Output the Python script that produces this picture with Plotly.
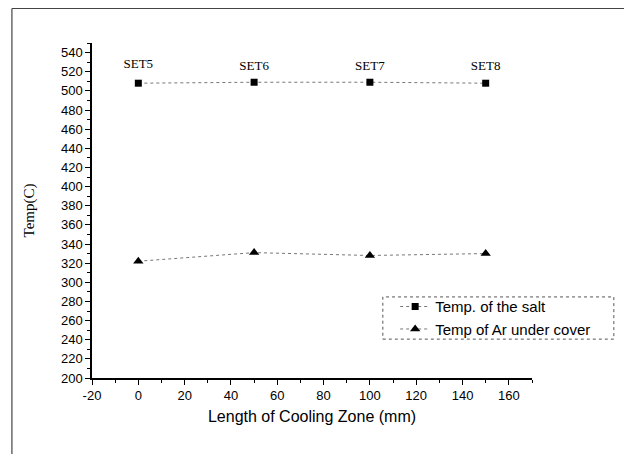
import plotly.graph_objects as go

x_mm = [0, 50, 100, 150]
salt_temp = [508, 509, 509, 508]
ar_temp = [322, 331, 328, 330]
set_labels = ["SET5", "SET6", "SET7", "SET8"]
set_label_y = [527, 525, 525, 525]
x_tick_vals = [-20, 0, 20, 40, 60, 80, 100, 120, 140, 160]
x_tick_text = ["-20", "0", "20", "40", "60", "80", "100", "120", "140", "160"]

fig = go.Figure()
fig.add_trace(go.Scatter(
    x=x_mm, y=salt_temp, mode="lines+markers", name="Temp. of the salt",
    line=dict(color="#777777", width=1, dash="dot"),
    marker=dict(symbol="square", size=7, color="black"),
))
fig.add_trace(go.Scatter(
    x=x_mm, y=ar_temp, mode="lines+markers", name="Temp of Ar under cover",
    line=dict(color="#777777", width=1, dash="dot"),
    marker=dict(symbol="triangle-up", size=9, color="black"),
))
fig.add_trace(go.Scatter(
    x=x_mm, y=set_label_y, mode="text", text=set_labels, showlegend=False,
    textfont=dict(family="Liberation Serif", size=13, color="black"),
    hoverinfo="skip",
))

axis_common = dict(
    showline=True, linecolor="black", linewidth=1.5, mirror=False,
    ticks="outside", ticklen=5, tickwidth=1.2, tickcolor="black",
    showgrid=False, zeroline=False,
    tickfont=dict(family="Liberation Sans", size=13, color="black"),
)

fig.update_xaxes(
    range=[-20, 170], tickvals=x_tick_vals, ticktext=x_tick_text,
    minor=dict(ticks="outside", ticklen=3, dtick=10, tickcolor="black"),
    title=dict(text="Length of Cooling Zone (mm)",
               font=dict(family="Liberation Sans", size=16, color="black"),
               standoff=8),
    **axis_common,
)
fig.update_yaxes(
    range=[200, 550], dtick=20, tick0=200,
    minor=dict(ticks="outside", ticklen=3, dtick=10, tickcolor="black"),
    title=dict(text="Temp(C)",
               font=dict(family="Liberation Serif", size=15, color="black"),
               standoff=23),
    **axis_common,
)

fig.update_layout(
    width=632, height=454,
    margin=dict(l=84, r=108, t=35, b=84),
    plot_bgcolor="white", paper_bgcolor="white",
    legend=dict(
        x=0.689, y=0.262, xanchor="left", yanchor="top",
        bgcolor="rgba(255,255,255,0)", borderwidth=0,
        font=dict(family="Liberation Sans", size=15, color="black"),
        itemwidth=30, tracegroupgap=0,
    ),
    shapes=[
        dict(type="rect", xref="paper", yref="paper",
             x0=0.661, x1=1.186, y0=0.116, y1=0.242,
             line=dict(color="#555555", width=1, dash="dot")),
        dict(type="line", xref="paper", yref="paper",
             x0=-0.182, x1=-0.182, y0=-0.3, y1=1.103,
             line=dict(color="#444444", width=1.2)),
        dict(type="line", xref="paper", yref="paper",
             x0=-0.182, x1=1.2205, y0=1.103, y1=1.103,
             line=dict(color="#444444", width=1.2)),
        dict(type="line", xref="paper", yref="paper",
             x0=1.2205, x1=1.2205, y0=-0.3, y1=1.103,
             line=dict(color="#444444", width=1.2)),
    ],
)

fig.write_html("out.html")
